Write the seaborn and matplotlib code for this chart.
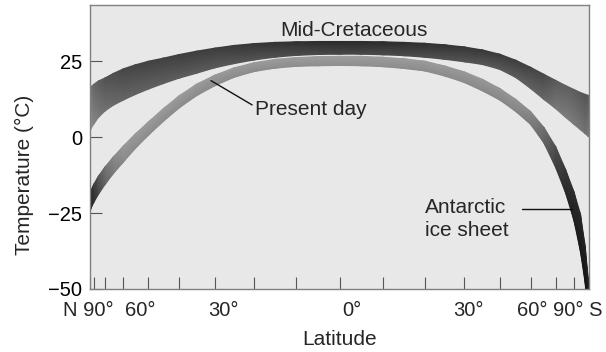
import numpy as np
import pandas as pd
import matplotlib
matplotlib.use("Agg")
import matplotlib.pyplot as plt
import seaborn as sns

# ---- data: temperature bands (deg C) against latitude (north positive) ----
latitude = [90, 85, 80, 75, 70, 65, 60, 55, 50, 45, 40, 35, 30, 25, 20, 15, 10, 5, 0,
            -5, -10, -15, -20, -25, -30, -35, -40, -45, -50, -55, -60, -65, -70, -75, -80, -85, -90]

cretaceous_high = [16.0, 16.6, 17.4, 18.5, 19.5, 21.0, 22.5, 23.8, 25.0, 26.0, 27.2, 28.3, 29.3,
                   30.2, 30.8, 31.2, 31.4, 31.5, 31.5, 31.5, 31.4, 31.2, 30.9, 30.4, 29.7, 28.7,
                   27.3, 25.3, 23.0, 20.7, 18.7, 17.0, 15.7, 14.7, 14.1, 13.8, 13.6]
cretaceous_low = [1.3, 2.8, 4.3, 6.5, 8.6, 10.5, 12.2, 14.0, 15.8, 17.6, 19.4, 21.0, 22.8,
                  24.2, 25.4, 26.3, 26.9, 27.2, 27.3, 27.3, 27.1, 26.8, 26.3, 25.6, 24.8, 23.9,
                  22.3, 19.6, 16.0, 12.4, 9.4, 6.5, 4.2, 2.4, 1.1, 0.3, 0.0]

present_high = [-19.0, -17.5, -15.5, -12.8, -9.8, -6.5, -2.9, 1.0, 5.0, 9.3, 13.6, 17.4, 20.4,
                22.8, 24.5, 25.6, 26.2, 26.5, 26.6, 26.6, 26.3, 25.8, 25.0, 23.4, 21.5, 19.0,
                16.0, 12.4, 8.4, 3.2, -3.1, -10.7, -18.0, -25.4, -36.0, -46.2, -56.0]
present_low = [-25.0, -23.5, -21.5, -18.8, -15.6, -12.0, -8.2, -3.8, 0.6, 5.1, 9.6, 13.6, 16.9,
               19.7, 21.6, 22.7, 23.3, 23.5, 23.6, 23.5, 23.2, 22.6, 21.8, 20.1, 18.0, 15.2,
               12.2, 8.4, 4.2, -1.9, -9.9, -18.4, -27.5, -37.8, -48.1, -59.0, -70.0]

y_ticks = [25, 0, -25, -50]
minor_lat = list(range(90, -91, -10))
lat_tick_labels = ["N 90°", "60°", "30°", "0°", "30°", "60°", "90° S"]
lat_tick_pos = [90, 60, 30, 0, -30, -60, -90]

# ---- styling: grey shading stops along each band (brightness 0-255) ----
cret_shade_lat = [90, 80, 70, 60, 45, 30, 15, 0, -15, -30, -45, -55, -62, -70, -80, -90]
cret_shade_val = [140, 118, 98, 86, 80, 76, 66, 58, 62, 70, 78, 88, 112, 108, 100, 110]
pres_shade_lat = [90, 85, 80, 75, 70, 65, 60, 50, 30, 0, -30, -45, -52, -57, -62, -67, -75, -85, -90]
pres_shade_val = [30, 40, 55, 80, 108, 130, 145, 148, 146, 150, 146, 140, 126, 92, 58, 42, 32, 24, 20]

sns.set_theme(style="ticks")
plt.rcParams["font.family"] = ["Liberation Sans", "DejaVu Sans"]
plt.rcParams["axes.linewidth"] = 1.0

W, H = 606, 352
fig = plt.figure(figsize=(W / 100, H / 100), dpi=100)
fig.patch.set_facecolor("white")
ax = fig.add_axes([90 / W, (H - 289) / H, 499 / W, 284 / H])
ax.set_facecolor("#e8e8e8")


def fwd(x):
    return np.sin(np.radians(x))


def inv(x):
    return np.degrees(np.arcsin(np.clip(x, -1, 1)))


# equal-area latitude axis: positions follow sin(latitude)
ax.set_xscale("function", functions=(fwd, inv))


def draw_band(high, low, shade_lat, shade_val, k):
    lat = np.asarray(latitude, float)
    hi = np.asarray(high, float)
    lo = np.asarray(low, float)
    s = np.linspace(0, 1, 7)[:, None]
    X = np.repeat(lat[None, :], len(s), axis=0)
    Y = lo[None, :] + (hi - lo)[None, :] * s
    order = np.argsort(shade_lat)
    base = np.interp(lat, np.asarray(shade_lat)[order], np.asarray(shade_val)[order])
    C = base[None, :] + k * (s - 0.5)
    ax.pcolormesh(X, Y, C, shading="gouraud", cmap="gray", vmin=0, vmax=255,
                  antialiased=True)


draw_band(cretaceous_high, cretaceous_low, cret_shade_lat, cret_shade_val, -30)
draw_band(present_high, present_low, pres_shade_lat, pres_shade_val, 14)

# leader lines for the labels
leaders = pd.DataFrame({
    "lat": [31.0, 20.5, -47.0, -68.5],
    "temp": [18.6, 10.6, -23.7, -23.7],
    "which": ["present", "present", "ice", "ice"],
})
sns.lineplot(data=leaders, x="lat", y="temp", units="which", estimator=None,
             color="#111111", linewidth=1.0, ax=ax, sort=False)

ax.set_xlim(90, -90)
ax.set_ylim(-50, 43.5)

ax.text(-3.33, 33.3, "Mid-Cretaceous", ha="center", va="baseline", fontsize=15)
ax.text(19.8, 7.3, "Present day", ha="left", va="baseline", fontsize=15)
ax.text(-20.04, -20.2, "Antarctic\nice sheet", ha="left", va="top", fontsize=15,
        linespacing=1.25)

# axes, ticks and labels
ax.set_yticks(y_ticks)
ax.set_yticklabels([f"{v}".replace("-", "\u2212") for v in y_ticks])
ax.set_xticks(minor_lat)
ax.set_xticklabels([])
ax.tick_params(axis="both", direction="in", length=8.6, width=0.8, color="#555555")
ax.tick_params(axis="y", pad=5.8, labelsize=14.5, labelcolor="black")
ax.tick_params(axis="x", labelbottom=False)
for sp in ax.spines.values():
    sp.set_visible(True)
    sp.set_color("#808080")
    sp.set_linewidth(1.0)
ax.grid(False)

label_dx_px = [24, 16.6, 8.75, 12, 3.75, -23, -11]
label_ha = ["right", "center", "center", "center", "center", "center", "center"]
for lat, txt, dx, ha in zip(lat_tick_pos, lat_tick_labels, label_dx_px, label_ha):
    ax.annotate(txt, xy=(lat, 0), xycoords=ax.get_xaxis_transform(),
                xytext=(dx * 0.72, -27 * 0.72), textcoords="offset points",
                ha=ha, va="baseline", fontsize=14.5)

ax.set_xlabel("Latitude", fontsize=15)
ax.xaxis.label.set_va("baseline")
ax.xaxis.set_label_coords(0.5, (289 - 345) / 284)
ax.set_ylabel("Temperature (°C)", fontsize=15)
ax.yaxis.label.set_va("baseline")
ax.yaxis.set_label_coords((30 - 90) / 499, (289 - 175) / 284)

fig.savefig("out.png", dpi=100)
